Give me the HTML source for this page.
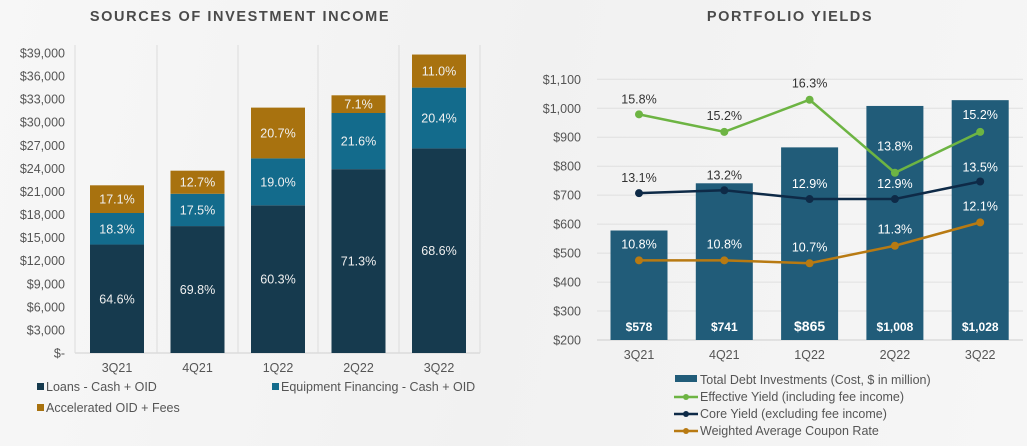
<!DOCTYPE html>
<html><head><meta charset="utf-8"><style>
html,body{margin:0;padding:0;}
body{width:1027px;height:446px;background:linear-gradient(100deg,#f7f7f7 0%,#f1f1f1 50%,#f6f6f6 100%);font-family:"Liberation Sans",sans-serif;overflow:hidden;}
svg{position:absolute;left:0;top:0;}
</style></head><body>
<svg id="c" width="1027" height="446">
<text x="240" y="21" text-anchor="middle" font-size="14.5" font-weight="bold" fill="#4a4a4a" letter-spacing="1.6">SOURCES OF INVESTMENT INCOME</text>
<text x="790" y="21" text-anchor="middle" font-size="14.5" font-weight="bold" fill="#4a4a4a" letter-spacing="1.6">PORTFOLIO YIELDS</text>
<g id="left"></g><g id="right"></g>
</svg>
<script>
const NS="http://www.w3.org/2000/svg";
function mk(p,tag,a,txt){const e=document.createElementNS(NS,tag);for(const k in a)e.setAttribute(k,a[k]);if(txt!==undefined)e.textContent=txt;p.appendChild(e);return e;}
// ---- Left chart data ----
const quarters=["3Q21","4Q21","1Q22","2Q22","3Q22"];
const loans=[14100,16500,19200,23900,26600];
const equip=[4100,4200,6100,7300,7900];
const accel=[3600,3000,6600,2300,4300];
const loansPct=["64.6%","69.8%","60.3%","71.3%","68.6%"];
const equipPct=["18.3%","17.5%","19.0%","21.6%","20.4%"];
const accelPct=["17.1%","12.7%","20.7%","7.1%","11.0%"];
const leftTicks=[0,3000,6000,9000,12000,15000,18000,21000,24000,27000,30000,33000,36000,39000];
// ---- Right chart data ----
const debt=[578,741,865,1008,1028];
const debtLabels=["$578","$741","$865","$1,008","$1,028"];
const effYield=[15.8,15.2,16.3,13.8,15.2];
const coreYield=[13.1,13.2,12.9,12.9,13.5];
const coupon=[10.8,10.8,10.7,11.3,12.1];
const rightTicks=[200,300,400,500,600,700,800,900,1000,1100];

const L=document.getElementById('left');
const yL=v=>353-v*300/39000;
const xL=i=>117+i*80.5;
mk(L,'line',{x1:75,y1:353,x2:480,y2:353,stroke:'#d0d0d0'});
[157,238,318,399].forEach(x=>mk(L,'line',{x1:x,y1:45,x2:x,y2:353,stroke:'#dcdcdc'}));
mk(L,'line',{x1:75,y1:45,x2:75,y2:353,stroke:'#dcdcdc'});
mk(L,'line',{x1:480,y1:45,x2:480,y2:353,stroke:'#dcdcdc'});
leftTicks.forEach(t=>{const e=mk(L,'text',{x:65,y:yL(t)+4.5,'text-anchor':'end','font-size':12.5,fill:'#555'},t===0?'$-':'$'+t.toLocaleString('en-US'));

});
quarters.forEach((q,i)=>{
 const cx=xL(i),w=54;
 const segs=[[0,loans[i],'#163a4e',loansPct[i]],[loans[i],loans[i]+equip[i],'#136b8c',equipPct[i]],[loans[i]+equip[i],loans[i]+equip[i]+accel[i],'#a8720f',accelPct[i]]];
 const names=['loans','equipment','accelerated'];
 segs.forEach((s,j)=>{
  const r=mk(L,'rect',{x:cx-w/2,y:yL(s[1]),width:w,height:yL(s[0])-yL(s[1]),fill:s[2]});
  
  
  const t=mk(L,'text',{x:cx,y:(yL(s[0])+yL(s[1]))/2+4.5,'text-anchor':'middle','font-size':12.5,fill:'#f0f0f0'},s[3]);
  
  
 });
 const xl=mk(L,'text',{x:cx,y:372,'text-anchor':'middle','font-size':12.5,fill:'#555'},q);
 
 
});
const legL=[[37,391,'#163a4e','Loans - Cash + OID'],[272,391,'#136b8c','Equipment Financing - Cash + OID'],[37,412,'#a8720f','Accelerated OID + Fees']];
legL.forEach(l=>{const g=mk(L,'g',{});


mk(g,'rect',{x:l[0],y:l[1]-8,width:7,height:7,fill:l[2]});mk(g,'text',{x:l[0]+9,y:l[1],'font-size':12.5,fill:'#555'},l[3]);});

const R=document.getElementById('right');
const yR=v=>340-(v-200)*260.7/900;
const yP=p=>575.7-29.2*p;
const xR=i=>639+i*85.3;
rightTicks.forEach(t=>{mk(R,'line',{x1:597,y1:yR(t),x2:1023,y2:yR(t),stroke:t===200?'#cfcfcf':'#e0e0e0'});
const e=mk(R,'text',{x:581,y:yR(t)+4.5,'text-anchor':'end','font-size':12.5,fill:'#555'},'$'+t.toLocaleString('en-US'));

});
quarters.forEach((q,i)=>{
 const r=mk(R,'rect',{x:xR(i)-28.5,y:yR(debt[i]),width:57,height:340-yR(debt[i]),fill:'#215c79'});
 
 
 const t=mk(R,'text',{x:xR(i),y:331,'text-anchor':'middle','font-size':i===2?14:12,'font-weight':'bold',fill:'#fff'},debtLabels[i]);
 
 
 const xl=mk(R,'text',{x:xR(i),y:359,'text-anchor':'middle','font-size':12.5,fill:'#555'},q);
 
 
});
function series(vals,color,name,txtColors,dy){
 const pts=vals.map((v,i)=>xR(i)+','+yP(v)).join(' ');
 const pl=mk(R,'polyline',{points:pts,fill:'none',stroke:color,'stroke-width':2.5});
 
 
 vals.forEach((v,i)=>{
  const c=mk(R,'circle',{cx:xR(i),cy:yP(v),r:4,fill:color});
  
  
  const t=mk(R,'text',{x:xR(i),y:yP(v)+dy[i],'text-anchor':'middle','font-size':12.5,fill:txtColors[i]},v.toFixed(1)+'%');
  
  
 });
}
series(coupon,'#b87a12','coupon',['#fff','#fff','#fff','#fff','#fff'],[-12,-12,-12,-12,-12]);
series(coreYield,'#0e2a47','core',['#333','#333','#fff','#fff','#fff'],[-11,-11,-11,-11,-10]);
series(effYield,'#6db443','effective',['#333','#333','#333','#fff','#fff'],[-11,-12,-12,-22,-13]);
const legR=[[384,'bar','#215c79','Total Debt Investments (Cost, $ in million)'],[401,'line','#6db443','Effective Yield (including fee income)'],[418,'line','#0e2a47','Core Yield (excluding fee income)'],[435,'line','#b87a12','Weighted Average Coupon Rate']];
legR.forEach(l=>{const g=mk(R,'g',{});


if(l[1]==='bar')mk(g,'rect',{x:675,y:l[0]-9,width:22,height:7,fill:l[2]});
else{mk(g,'line',{x1:674,y1:l[0]-4,x2:698,y2:l[0]-4,stroke:l[2],'stroke-width':2.5});mk(g,'circle',{cx:686,cy:l[0]-4,r:3,fill:l[2]});}
mk(g,'text',{x:700,y:l[0],'font-size':12.5,fill:'#555'},l[3]);});
</script>
</body></html>
